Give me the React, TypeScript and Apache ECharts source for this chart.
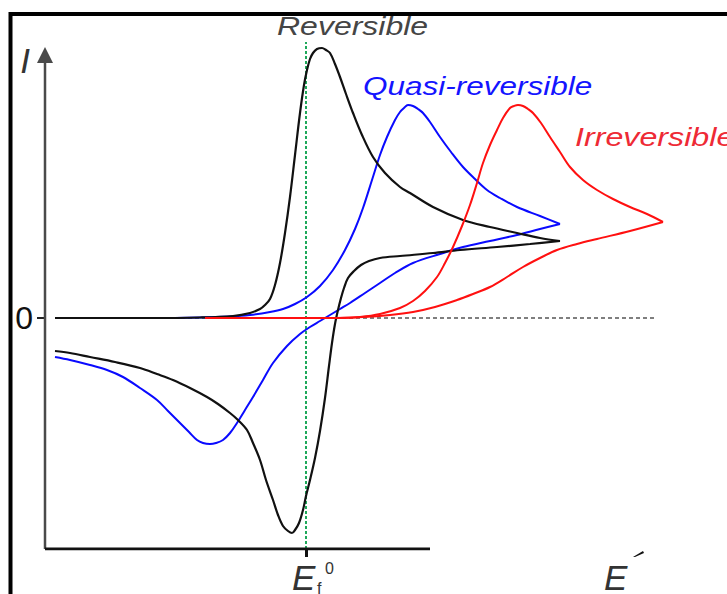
import React, { useEffect, useRef } from "react";
import * as echarts from "echarts";

const FONT = "'Liberation Sans', Arial, Helvetica, sans-serif";

// Potential axis (E, relative to the formal potential) and current axis (I), arbitrary units
const E_MIN = -261;
const E_MAX = 394;
const E_AXIS_END = 124;
const I_MIN = -231;
const I_MAX = 278;
const I_AXIS_END = 263;

// Reversible couple: forward (oxidative) sweep
const revFwdE = [-251, -156, -106, -73, -56, -46, -41, -36, -31, -26, -21, -16, -11, -6, -2, 1, 4, 7, 11, 16, 20, 24, 29, 34, 40, 47, 56, 67, 79, 94, 104, 127, 157, 184, 211, 234, 254];
const revFwdI = [0, 0, 0.5, 2, 5, 9, 13, 19, 33, 55, 85, 121, 163, 205, 233, 248, 259, 265, 269, 270, 268, 265, 254, 241, 224, 205, 183, 161, 145, 131, 125, 111, 98, 91, 85, 80, 77];
// Reversible couple: reverse sweep
const revRetE = [254, 224, 191, 154, 127, 94, 74, 63, 55, 48, 42, 38, 35, 32, 29, 26, 23, 19, 14, 9, 4, 0, -3, -7, -11, -14, -18, -23, -28, -33, -40, -46, -53, -59, -68, -76, -88, -99, -116, -133, -149, -166, -191, -216, -236, -251];
const revRetI = [77, 74, 71, 68, 65, 62, 60, 57, 53, 47, 40, 30, 20, 8, -6, -25, -48, -80, -113, -140, -162, -178, -192, -205, -212, -215, -213, -208, -197, -182, -162, -142, -125, -112, -102, -95, -86, -79, -70, -62, -56, -50, -44, -39, -35, -33];

// Quasi-reversible couple
const quasiFwdE = [-251, -156, -106, -76, -56, -36, -23, -11, 1, 14, 27, 39, 49, 57, 66, 74, 81, 89, 94, 98, 102, 107, 112, 117, 124, 134, 145, 157, 169, 181, 194, 211, 234, 254];
const quasiFwdI = [0, 0, 0.5, 1.5, 3, 6, 9, 14, 21, 32, 48, 68, 89, 110, 138, 163, 181, 198, 206, 210, 213, 212, 209, 205, 196, 181, 166, 151, 139, 128, 120, 111, 102, 94];
const quasiRetE = [254, 234, 211, 184, 157, 134, 107, 89, 74, 59, 44, 34, 24, 14, 4, -6, -19, -33, -43, -53, -61, -69, -76, -83, -90, -96, -103, -109, -117, -126, -138, -149, -166, -183, -199, -216, -236, -251];
const quasiRetI = [94, 89, 83, 77, 71, 64, 55, 45, 35, 25, 15, 9, 3, -3, -9, -16, -28, -45, -62, -79, -92, -105, -115, -122, -125, -126, -125, -122, -114, -105, -93, -82, -70, -59, -52, -47, -42, -39];

// Irreversible couple
const irrFwdE = [-101, -6, 34, 54, 74, 94, 107, 119, 131, 139, 147, 156, 164, 171, 177, 184, 191, 197, 204, 208, 212, 217, 222, 227, 235, 244, 254, 264, 277, 291, 307, 324, 341, 357];
const irrFwdI = [0, 0, 0, 1, 4, 10, 17, 27, 41, 55, 71, 92, 113, 135, 155, 173, 188, 200, 210, 212, 213, 212, 209, 205, 195, 181, 166, 151, 138, 128, 119, 111, 104, 96];
const irrRetE = [357, 324, 291, 271, 251, 234, 217, 201, 184, 167, 151, 129, 107, 84, 57, 24, -101];
const irrRetI = [96, 87, 79, 74, 68, 60, 51, 41, 31, 24, 18, 11, 6, 3, 1, 0, 0];

// Zero-current reference and formal potential marker
const zeroLineE = [-251, 351];
const formalE = 0;
const formalSpanI = [I_MIN, 276];

const zip = (e: number[], i: number[]) => e.map((v, k) => [v, i[k]]);

const BLACK = "#111111";
const BLUE = "#0a0aff";
const RED = "#ff1010";

function curve(name: string, data: number[][], color: string, width: number, z: number) {
  return {
    name,
    type: "line",
    data,
    smooth: 0.35,
    symbol: "none",
    silent: true,
    z,
    lineStyle: { color, width },
  };
}

export default function App() {
  const ref = useRef<HTMLDivElement>(null);

  useEffect(() => {
    document.body.style.margin = "0";
    if (!ref.current) return;
    const chart = echarts.init(ref.current, undefined, { renderer: "svg" });

    const textStyle = (text: string, font: string, fill: string, align = "left") => ({
      text,
      font,
      fill,
      align,
      textAlign: align,
      verticalAlign: "middle",
      textVerticalAlign: "middle",
    });

    const option = {
      animation: false,
      backgroundColor: "#ffffff",
      grid: { left: 45, right: 27, top: 40, bottom: 45 },
      xAxis: {
        type: "value",
        min: E_MIN,
        max: E_MAX,
        axisLine: { show: true, onZero: false, lineStyle: { opacity: 0 } },
        axisTick: { show: true, customValues: [formalE], length: 8, lineStyle: { color: "#111", width: 3 } },
        axisLabel: { show: false },
        splitLine: { show: false },
      },
      yAxis: {
        type: "value",
        min: I_MIN,
        max: I_MAX,
        axisLine: { show: true, onZero: false, lineStyle: { opacity: 0 } },
        axisTick: { show: true, customValues: [0], length: 8, lineStyle: { color: "#222", width: 2 } },
        axisLabel: { show: true, customValues: [0], margin: 12, fontSize: 32, color: "#111", fontFamily: FONT },
        splitLine: { show: false },
      },
      series: [
        {
          name: "I axis",
          type: "line",
          data: [
            [E_MIN, I_MIN],
            { value: [E_MIN, I_AXIS_END], symbol: "triangle", symbolSize: 16, itemStyle: { color: "#4a4a4a" } },
          ],
          symbol: "none",
          showSymbol: true,
          silent: true,
          z: 6,
          lineStyle: { color: "#4a4a4a", width: 2.5 },
        },
        {
          name: "E axis",
          type: "line",
          data: zip([E_MIN, E_AXIS_END], [I_MIN, I_MIN]),
          symbol: "none",
          silent: true,
          z: 6,
          lineStyle: { color: "#111", width: 3 },
        },
        {
          name: "zero",
          type: "line",
          data: zip(zeroLineE, [0, 0]),
          symbol: "none",
          silent: true,
          z: 1,
          lineStyle: { color: "#555", width: 1.5, type: [4, 3] },
        },
        {
          name: "formal potential",
          type: "line",
          data: zip([formalE, formalE], formalSpanI),
          symbol: "none",
          silent: true,
          z: 2,
          lineStyle: { color: "#1fa85a", width: 2, type: [3, 2] },
        },
        curve("quasi forward", zip(quasiFwdE, quasiFwdI), BLUE, 2, 3),
        curve("quasi reverse", zip(quasiRetE, quasiRetI), BLUE, 2, 3),
        curve("reversible forward", zip(revFwdE, revFwdI), BLACK, 2.2, 4),
        curve("reversible reverse", zip(revRetE, revRetI), BLACK, 2.2, 4),
        curve("irreversible forward", zip(irrFwdE, irrFwdI), RED, 2, 5),
        curve("irreversible reverse", zip(irrRetE, irrRetI), RED, 2, 5),
      ],
      graphic: [
        {
          type: "rect",
          shape: { x: 10.5, y: 14, width: 800, height: 700 },
          style: { fill: "none", stroke: "#000", lineWidth: 4 },
          z: 100,
        },
        { type: "text", x: 25, y: 60, style: textStyle("I", `italic 35px ${FONT}`, "#333", "center"), z: 100 },
        { type: "text", x: 277, y: 26, scaleX: 1.28, style: textStyle("Reversible", `italic 25px ${FONT}`, "#454545"), z: 100 },
        { type: "text", x: 363, y: 86, scaleX: 1.26, style: textStyle("Quasi-reversible", `italic 25px ${FONT}`, "#1414ff"), z: 100 },
        { type: "text", x: 575, y: 137, scaleX: 1.24, style: textStyle("Irreversible", `italic 26px ${FONT}`, "#ee2a35"), z: 100 },
        { type: "text", x: 292, y: 577, style: textStyle("E", `italic 35px ${FONT}`, "#333"), z: 100 },
        { type: "text", x: 317, y: 588, style: textStyle("f", `16px ${FONT}`, "#333"), z: 100 },
        { type: "text", x: 325, y: 568, style: textStyle("0", `16px ${FONT}`, "#333"), z: 100 },
        { type: "text", x: 604, y: 577, style: textStyle("E", `italic 35px ${FONT}`, "#333"), z: 100 },
        {
          type: "polygon",
          shape: { points: [[633, 557], [643, 551], [644, 553], [635, 557]] },
          style: { fill: "#111" },
          z: 100,
        },
      ],
    };

    chart.setOption(option as any);
    return () => chart.dispose();
  }, []);

  return <div ref={ref} style={{ width: 727, height: 594 }} />;
}
